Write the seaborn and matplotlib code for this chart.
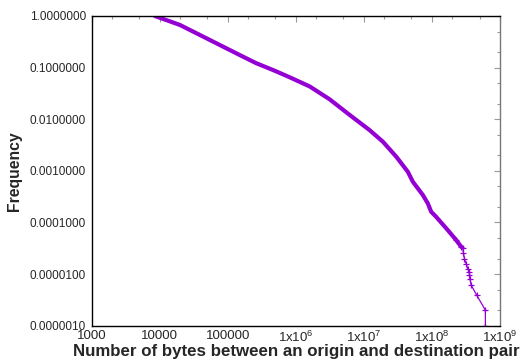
import matplotlib
matplotlib.use("Agg")
import matplotlib.pyplot as plt
import matplotlib.ticker as mticker
import seaborn as sns
import pandas as pd

# Complementary distribution of bytes exchanged per origin/destination pair
main_bytes = [8490, 19800, 48600, 150000, 264000, 462000, 8.13e5, 1.60e6, 3.14e6,
              6.18e6, 1.21e7, 1.90e7, 2.99e7, 4.42e7, 5.24e7, 7.35e7, 8.7e7,
              9.75e7, 1.15e8, 1.71e8, 2.27e8, 2.69e8]
main_freq = [1.0, 0.67, 0.37, 0.175, 0.121, 0.0898, 0.0649, 0.0431, 0.0243,
             0.0121, 0.00617, 0.00367, 0.00188, 9.6e-4, 6.15e-4, 3.4e-4, 2.34e-4,
             1.61e-4, 1.29e-4, 7.1e-5, 4.56e-5, 3.38e-5]

tail_bytes = [2.27e8, 2.69e8, 2.84e8, 2.9e8, 3.0e8, 3.18e8, 3.36e8, 3.56e8, 3.56e8,
              3.64e8, 3.77e8, 4.55e8, 6.1e8, 6.1e8]
tail_freq = [4.56e-5, 3.38e-5, 3.15e-5, 2.58e-5, 2.0e-5, 1.6e-5, 1.28e-5, 1.11e-5,
             9.6e-6, 7.9e-6, 6.1e-6, 3.9e-6, 2.0e-6, 1.0e-6]

x_ticks = [1e3, 1e4, 1e5, 1e6, 1e7, 1e8, 1e9]
x_tick_labels = ["1000", "10000", "100000", r"1x10$^{6}$", r"1x10$^{7}$",
                 r"1x10$^{8}$", r"1x10$^{9}$"]
y_ticks = [1e-6, 1e-5, 1e-4, 1e-3, 1e-2, 1e-1, 1.0]
y_tick_labels = ["%.7f" % v for v in y_ticks]

sns.set_style("white")
plt.rcParams["font.family"] = ["Liberation Sans", "DejaVu Sans"]
plt.rcParams["mathtext.fontset"] = "custom"
plt.rcParams["mathtext.rm"] = "Liberation Sans"
plt.rcParams["mathtext.it"] = "Liberation Sans"
plt.rcParams["mathtext.bf"] = "Liberation Sans:bold"

color = "#9400D3"

fig = plt.figure(figsize=(5.23, 3.60), dpi=100)
ax = fig.add_axes([0.1753, 0.0953, 0.9560 - 0.1753, 0.9556 - 0.0953])

main_df = pd.DataFrame({"bytes": main_bytes, "freq": main_freq})
tail_df = pd.DataFrame({"bytes": tail_bytes, "freq": tail_freq})

sns.lineplot(data=main_df, x="bytes", y="freq", ax=ax, color=color,
             linewidth=3.0, sort=False, estimator=None,
             solid_capstyle="round", solid_joinstyle="round")
sns.lineplot(data=tail_df, x="bytes", y="freq", ax=ax, color=color,
             linewidth=0.9, sort=False, estimator=None, marker="+",
             markersize=4, markeredgewidth=0.9, markeredgecolor=color)

ax.set_xscale("log")
ax.set_yscale("log")
ax.set_xlim(1e3, 1e9)
ax.set_ylim(1e-6, 1.0)

ax.xaxis.set_major_locator(mticker.FixedLocator(x_ticks))
ax.xaxis.set_major_formatter(mticker.FixedFormatter(x_tick_labels))
ax.yaxis.set_major_locator(mticker.FixedLocator(y_ticks))
ax.yaxis.set_major_formatter(mticker.FixedFormatter(y_tick_labels))
ax.xaxis.set_minor_locator(mticker.LogLocator(base=10, subs=(2.0, 5.0), numticks=20))
ax.yaxis.set_minor_locator(mticker.LogLocator(base=10, subs=(2.0, 5.0), numticks=20))
ax.xaxis.set_minor_formatter(mticker.NullFormatter())
ax.yaxis.set_minor_formatter(mticker.NullFormatter())

ax.tick_params(axis="both", which="both", direction="in", top=True, right=True,
               color="#999999", width=0.8)
ax.tick_params(axis="both", which="major", length=4)
ax.tick_params(axis="both", which="minor", length=2)
ax.tick_params(axis="x", which="major", labelsize=9.5, pad=3)
ax.tick_params(axis="y", which="major", labelsize=8.5, pad=4)

for side in ["left", "bottom", "top", "right"]:
    ax.spines[side].set_visible(True)
    ax.spines[side].set_linewidth(1.0)
ax.spines["left"].set_color("black")
ax.spines["bottom"].set_color("black")
ax.spines["top"].set_color("black")
ax.spines["right"].set_color("#777777")

ax.set_xlabel("Number of bytes between an origin and destination pair",
              fontsize=12.2, fontweight="bold", labelpad=-1)
ax.set_ylabel("Frequency", fontsize=11.3, fontweight="bold", labelpad=6)

fig.savefig("out.png", dpi=100)
